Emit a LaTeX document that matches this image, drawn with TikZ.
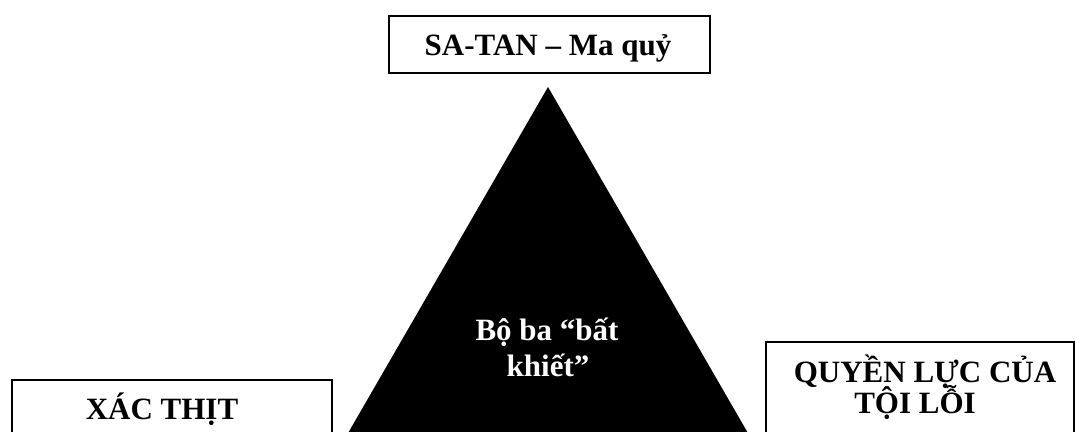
\documentclass[tikz,border=0pt]{standalone}
\usepackage{fontspec}
\setmainfont{Liberation Serif}
\begin{document}
\begin{tikzpicture}[x=1pt,y=-1pt,
  box/.style={draw=black,line width=2pt,fill=white,inner sep=0pt},
  lbl/.style={font=\fontsize{31}{31}\selectfont\bfseries,anchor=base,inner sep=0pt},
  trilbl/.style={lbl,text=white}]
\useasboundingbox (0,0) rectangle (1075,431);
\clip (0,0) rectangle (1075,431);
\fill[white] (0,0) rectangle (1075,431);
% boxes
\node[box,minimum width=321pt,minimum height=57pt] (satan) at (549.5,44.5) {};
\node[box,minimum width=320pt,minimum height=80pt] (xac) at (172,420) {};
\node[box,minimum width=308pt,minimum height=120pt] (quyen) at (920,402) {};
% triangle
\fill[black] (548,87) -- (340,447) -- (756,447) -- cycle;
% texts
\node[lbl] (satanT) at (548,55) {SA-TAN – Ma quỷ};
\node[lbl] (xacT) at (162,419) {XÁC THỊT};
\node[lbl] (quyenT1) at (925,382) {QUYỀN LỰC CỦA};
\node[lbl] (quyenT2) at (915,413) {TỘI LỖI};
\node[trilbl] (tri1) at (547,340) {Bộ ba “bất};
\node[trilbl] (tri2) at (548,376) {khiết”};
\end{tikzpicture}
\end{document}
